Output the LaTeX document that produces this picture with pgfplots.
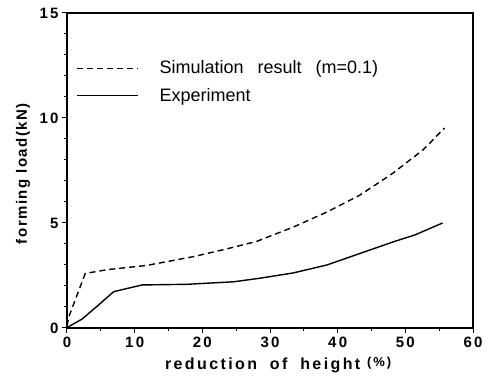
\documentclass[border=0pt]{standalone}
\usepackage{fontspec}
\setmainfont{Liberation Sans}
\newfontfamily\spfont[LetterSpace=10]{Liberation Sans}
\newfontfamily\spfontb[LetterSpace=15]{Liberation Sans}
\usepackage{pgfplots}
\pgfplotsset{compat=1.18}
\begin{document}
\begin{tikzpicture}
\begin{axis}[
  scale only axis, width=406pt, height=315pt,
  xmin=0, xmax=60, ymin=0, ymax=15,
  xtick={0,10,...,60}, ytick={0,5,10,15},
  minor xtick={5,15,...,55}, minor ytick={1,2,3,4,6,7,8,9,11,12,13,14},
  tick align=outside, tick pos=left,
  major tick length=5pt, minor tick length=3pt,
  axis line style={line width=1.2pt}, every tick/.style={line width=1pt,black},
  /pgf/number format/assume math mode=true,
  ticklabel style={font=\spfontb\bfseries\fontsize{15}{15}\selectfont},
  xlabel={\spfontb\bfseries\fontsize{16}{16}\selectfont reduction\hspace{6pt} of\hspace{6pt} height \raisebox{3pt}{\fontsize{13}{13}\selectfont(\%)}},
  ylabel={\spfont\bfseries\fontsize{15}{15}\selectfont forming load(kN)},
  every axis x label/.style={at={(rel axis cs:0.52,-0.133)}, anchor=base},
  every axis y label/.style={at={(rel axis cs:-0.108,0.49)}, rotate=90, anchor=center},
  legend style={draw=none, fill=none, at={(axis cs:0.9,11.72)}, anchor=west,
     font=\fontsize{18}{20}\selectfont, row sep=9pt},
  legend cell align=left,
  legend image code/.code={\draw[#1, line width=1.2pt] (0pt,0pt) -- (61pt,0pt); \path (80pt,0pt);},
]
\addplot[black, line width=1.4pt, dash pattern=on 6pt off 4pt] coordinates {
(0,0.1) (0.3,0.56) (2.7,2.6) (6,2.78) (11.8,2.98) (18.7,3.4) (23,3.72) (28,4.12) (33.4,4.8) (38.4,5.52) (43.3,6.33) (48.2,7.38) (52.6,8.48) (55.8,9.52)};
\addlegendentry{Simulation\hspace{9pt} result\hspace{9pt} (m=0.1)}
\addplot[black, line width=1.4pt] coordinates {
(0,0.02) (2.2,0.42) (4.5,1.05) (6.9,1.73) (11.1,2.05) (17.7,2.08) (24.6,2.2) (28.5,2.37) (33.4,2.62) (38.4,3.0) (43.3,3.55) (48.2,4.1) (51.4,4.43) (55.5,5.0)};
\addlegendentry{Experiment}
\end{axis}
\path[use as bounding box] ([xshift=-67pt,yshift=-51pt]current axis.south west) rectangle ([xshift=16pt,yshift=13pt]current axis.north east);
\end{tikzpicture}
\end{document}
